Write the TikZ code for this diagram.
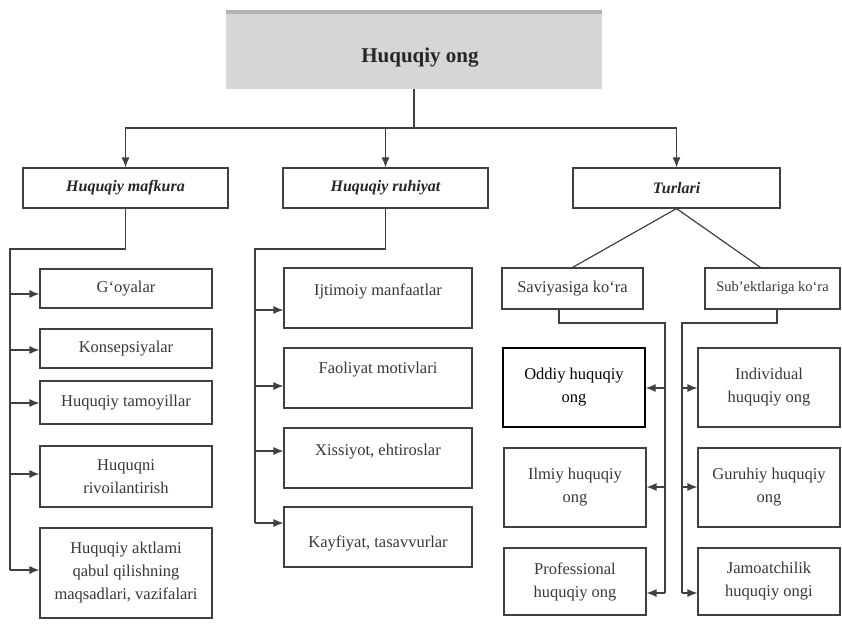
\documentclass[tikz,border=0pt]{standalone}
\usepackage{fontspec}
\setmainfont{Liberation Serif}
\usetikzlibrary{arrows.meta}
\newcommand{\lift}[2]{\raisebox{#1}[0pt][0pt]{#2}}
\begin{document}
\begin{tikzpicture}[x=1pt,y=-1pt,
  box/.style={draw=black!75, line width=1.1pt, fill=white, text=black!78, align=center,
    inner sep=2pt, font=\fontsize{16.5}{23}\selectfont},
  head/.style={box, text=black!85, font=\fontsize{16}{19}\selectfont\bfseries\itshape},
  topbox/.style={fill=black!16, draw=none, text=black!85, font=\fontsize{21}{24}\selectfont\bfseries},
  line/.style={draw=black!75, line width=1.2pt},
  arr/.style={line, -{Latex[length=10pt,width=8pt]}},
]
\useasboundingbox (0,0) rectangle (842,627);

% title
\node[topbox, minimum width=376, minimum height=79] (top) at (414,49.5)
  {\lift{-13pt}{\hspace*{12pt}Huquqiy ong}};
\draw[black!30, line width=4pt] ([yshift=-2pt]top.north west) -- ([yshift=-2pt]top.north east);

% level 2
\node[head, minimum width=205, minimum height=40] (M) at (125.5,188) {Huquqiy mafkura};
\node[head, minimum width=205, minimum height=40] (R) at (385.5,188) {Huquqiy ruhiyat};
\node[head, minimum width=207, minimum height=40] (T) at (676.5,188) {Turlari};

\coordinate (hj) at (top.south |- 0,128);
\draw[line] (top.south) -- (hj);
\draw[arr] (hj) -| (M.north);
\draw[arr] (hj) -| (R.north);
\draw[arr] (hj) -| (T.north);

% mafkura items
\node[box, minimum width=172, minimum height=39] (g1) at (126,288.5) {G`oyalar};
\node[box, minimum width=172, minimum height=39] (g2) at (126,348.5) {Konsepsiyalar};
\node[box, minimum width=172, minimum height=43] (g3) at (126,402.5) {Huquqiy tamoyillar};
\node[box, minimum width=172, minimum height=61] (g4) at (126,476.5) {Huquqni\\rivoilantirish};
\node[box, minimum width=172, minimum height=90] (g5) at (126,573) {Huquqiy aktlami\\qabul qilishning\\maqsadlari, vazifalari};

\coordinate (ml) at (10,249);
\coordinate (a1) at (10,294);
\coordinate (a2) at (10,350);
\coordinate (a3) at (10,403);
\coordinate (a4) at (10,474);
\coordinate (a5) at (10,570);
\draw[line] (M.south) |- (ml) -- (a5);
\draw[arr] (a1) -- (a1 -| g1.west);
\draw[arr] (a2) -- (a2 -| g2.west);
\draw[arr] (a3) -- (a3 -| g3.west);
\draw[arr] (a4) -- (a4 -| g4.west);
\draw[arr] (a5) -- (a5 -| g5.west);

% ruhiyat items
\node[box, minimum width=188, minimum height=60] (r1) at (378,298) {\lift{2.5pt}{Ijtimoiy manfaatlar}};
\node[box, minimum width=188, minimum height=60] (r2) at (378,378) {\lift{4.5pt}{Faoliyat motivlari}};
\node[box, minimum width=188, minimum height=60] (r3) at (378,458) {\lift{2.5pt}{Xissiyot, ehtiroslar}};
\node[box, minimum width=188, minimum height=60] (r4) at (378,537) {\lift{-10.5pt}{Kayfiyat, tasavvurlar}};

\coordinate (rl) at (255,249);
\coordinate (b1) at (255,310);
\coordinate (b2) at (255,386);
\coordinate (b3) at (255,451);
\coordinate (b4) at (255,523);
\draw[line] (R.south) |- (rl) -- (b4);
\draw[arr] (b1) -- (b1 -| r1.west);
\draw[arr] (b2) -- (b2 -| r2.west);
\draw[arr] (b3) -- (b3 -| r3.west);
\draw[arr] (b4) -- (b4 -| r4.west);

% turlari
\node[box, minimum width=141, minimum height=41] (S) at (572.5,288.5) {Saviyasiga ko`ra};
\node[box, minimum width=135, minimum height=41, font=\fontsize{14.5}{17}\selectfont] (E) at (772.5,288.5) {Sub'ektlariga ko`ra};
\draw[line] (T.south) -- (S.north);
\draw[line] (T.south) -- ([xshift=-12pt]E.north);

\node[box, draw=black, line width=1.4pt, text=black, minimum width=142, minimum height=79] (o1) at (574,387.5) {Oddiy huquqiy\\ong};
\node[box, minimum width=142, minimum height=79] (o2) at (575,487.5) {Ilmiy huquqiy\\ong};
\node[box, minimum width=142, minimum height=67] (o3) at (575,581.5) {Professional\\huquqiy ong};
\node[box, minimum width=142, minimum height=79] (i1) at (769,387.5) {Individual\\huquqiy ong};
\node[box, minimum width=142, minimum height=79] (i2) at (769,487.5) {Guruhiy huquqiy\\ong};
\node[box, minimum width=142, minimum height=67] (i3) at (769,581.5) {Jamoatchilik\\huquqiy ongi};

\coordinate (sc) at (665,323);
\coordinate (s1) at (665,388);
\coordinate (s2) at (665,487);
\coordinate (s3) at (665,593);
\draw[line] ([xshift=-13.5pt]S.south) |- (sc) -- (s3);
\draw[arr] (s1) -- (s1 -| o1.east);
\draw[arr] (s2) -- (s2 -| o2.east);
\draw[arr] (s3) -- (s3 -| o3.east);

\coordinate (ec) at (682,323);
\coordinate (e1) at (682,388);
\coordinate (e2) at (682,487);
\coordinate (e3) at (682,593);
\draw[line] ([xshift=4.5pt]E.south) |- (ec) -- (e3);
\draw[arr] (e1) -- (e1 -| i1.west);
\draw[arr] (e2) -- (e2 -| i2.west);
\draw[arr] (e3) -- (e3 -| i3.west);
\end{tikzpicture}
\end{document}
